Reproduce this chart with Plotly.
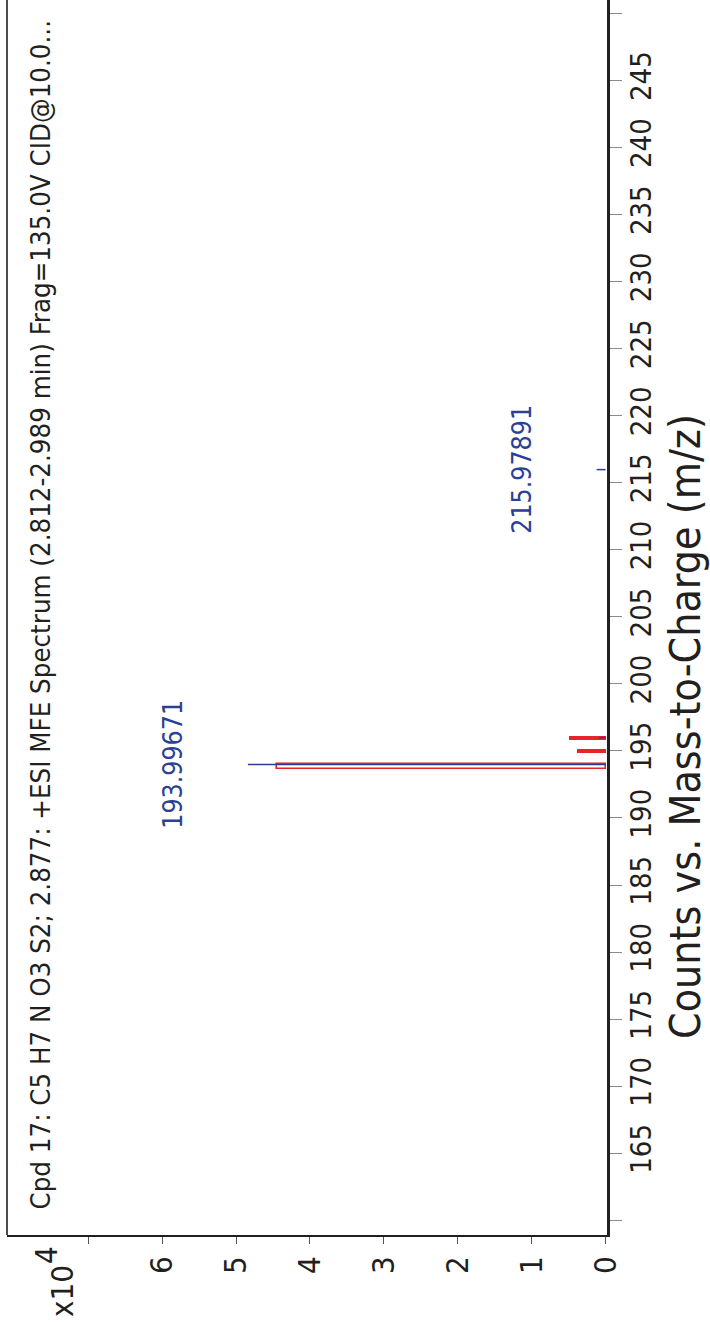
import plotly.graph_objects as go

# Measured peaks (blue sticks)
peak_mz = [193.99671, 195.993, 215.97891]
peak_counts = [48400, 900, 1200]
label_mz = [193.99671, 215.97891]
label_counts = [48400, 1200]
label_text = ["193.99671", "215.97891"]

# Predicted isotope pattern (red boxes)
iso_mz = [193.85, 195.0, 196.0]
iso_counts = [44500, 3800, 4900]

# Axis ticks
mz_ticks = [160, 165, 170, 175, 180, 185, 190, 195, 200, 205, 210, 215,
            220, 225, 230, 235, 240, 245, 250]
mz_ticktext = ["", "165", "170", "175", "180", "185", "190", "195", "200",
               "205", "210", "215", "220", "225", "230", "235", "240",
               "245", ""]
count_ticks = [0, 10000, 20000, 30000, 40000, 50000, 60000, 70000]
count_ticktext = ["0", "1", "2", "3", "4", "5", "6", ""]

TITLE = ("Cpd 17: C5 H7 N O3 S2; 2.877: +ESI MFE Spectrum (2.812-2.989 min) "
         "Frag=135.0V CID@10.0...")
FONT = "Liberation Sans Narrow, Arial Narrow, DejaVu Sans Condensed, sans-serif"
BLUE = "#2b3f96"
RED = "#e8232b"
INK = "#231f20"

W, H = 710, 1324
L, R, T, B = 7, 103, 0, 89


def px_x(p):
    return (p - L) / (W - L - R)


def px_y(p):
    return (H - B - p) / (H - T - B)


fig = go.Figure()

# blue sticks
xs, ys = [], []
for mz, c in zip(peak_mz, peak_counts):
    xs += [0, c, None]
    ys += [mz, mz, None]
fig.add_trace(go.Scatter(x=xs, y=ys, mode="lines",
                         line=dict(color=BLUE, width=1.5),
                         hoverinfo="skip", showlegend=False))

# red isotope boxes: main one hollow, minor ones solid
fig.add_trace(go.Bar(orientation="h", y=iso_mz[:1], x=iso_counts[:1],
                     width=0.38,
                     marker=dict(color="rgba(255,255,255,0)",
                                 line=dict(color=RED, width=1.6)),
                     showlegend=False))
fig.add_trace(go.Bar(orientation="h", y=iso_mz[1:], x=iso_counts[1:],
                     width=0.3,
                     marker=dict(color=RED, line=dict(width=0)),
                     showlegend=False))

# peak labels
for mz, c, t in zip(label_mz, label_counts, label_text):
    fig.add_annotation(x=c, y=mz, xref="x", yref="y", text=t,
                       textangle=-90, showarrow=False,
                       xanchor="right", yanchor="middle", xshift=-58,
                       font=dict(family=FONT, size=26.5, color=BLUE))

# title
fig.add_annotation(x=px_x(40), y=px_y(1212), xref="paper", yref="paper",
                   text=TITLE, textangle=-90, showarrow=False,
                   xanchor="center", yanchor="bottom",
                   font=dict(family=FONT, size=27.4, color=INK))

# axis title
fig.add_annotation(x=px_x(685), y=px_y(726), xref="paper", yref="paper",
                   text="Counts vs. Mass-to-Charge (m/z)",
                   textangle=-90, showarrow=False,
                   xanchor="center", yanchor="middle",
                   font=dict(family=FONT, size=42.5, color=INK))

# count multiplier
fig.add_annotation(x=px_x(62), y=px_y(1291), xref="paper", yref="paper",
                   text="x10", textangle=-90, showarrow=False,
                   xanchor="center", yanchor="middle",
                   font=dict(family=FONT, size=31, color=INK))
fig.add_annotation(x=px_x(46), y=px_y(1255), xref="paper", yref="paper",
                   text="4", textangle=-90, showarrow=False,
                   xanchor="center", yanchor="middle",
                   font=dict(family=FONT, size=31, color=INK))

# left frame edge
fig.add_shape(type="line", xref="paper", yref="paper", x0=0, x1=0, y0=0, y1=1,
              line=dict(color=INK, width=1.6))

fig.update_layout(
    width=W, height=H,
    margin=dict(l=L, r=R, t=T, b=B, pad=0),
    paper_bgcolor="white", plot_bgcolor="white",
    bargap=0, barmode="overlay",
    font=dict(family=FONT, color=INK),
    xaxis=dict(range=[81000, -200], tickvals=count_ticks,
               ticktext=count_ticktext, tickangle=-90,
               ticks="outside", ticklen=7, tickcolor="#555555", tickwidth=1,
               showline=True, linecolor=INK, linewidth=1.6,
               showgrid=False, zeroline=False,
               tickfont=dict(family=FONT, size=31, color=INK)),
    yaxis=dict(range=[158.9, 251.0], side="right", tickvals=mz_ticks,
               ticktext=mz_ticktext, tickangle=-90,
               ticks="outside", ticklen=12, tickcolor="#8a8a8a", tickwidth=1,
               ticklabelstandoff=-6,
               showline=True, linecolor=INK, linewidth=3,
               showgrid=False, zeroline=False,
               tickfont=dict(family=FONT, size=29, color=INK)),
)

fig.write_html("out.html")
